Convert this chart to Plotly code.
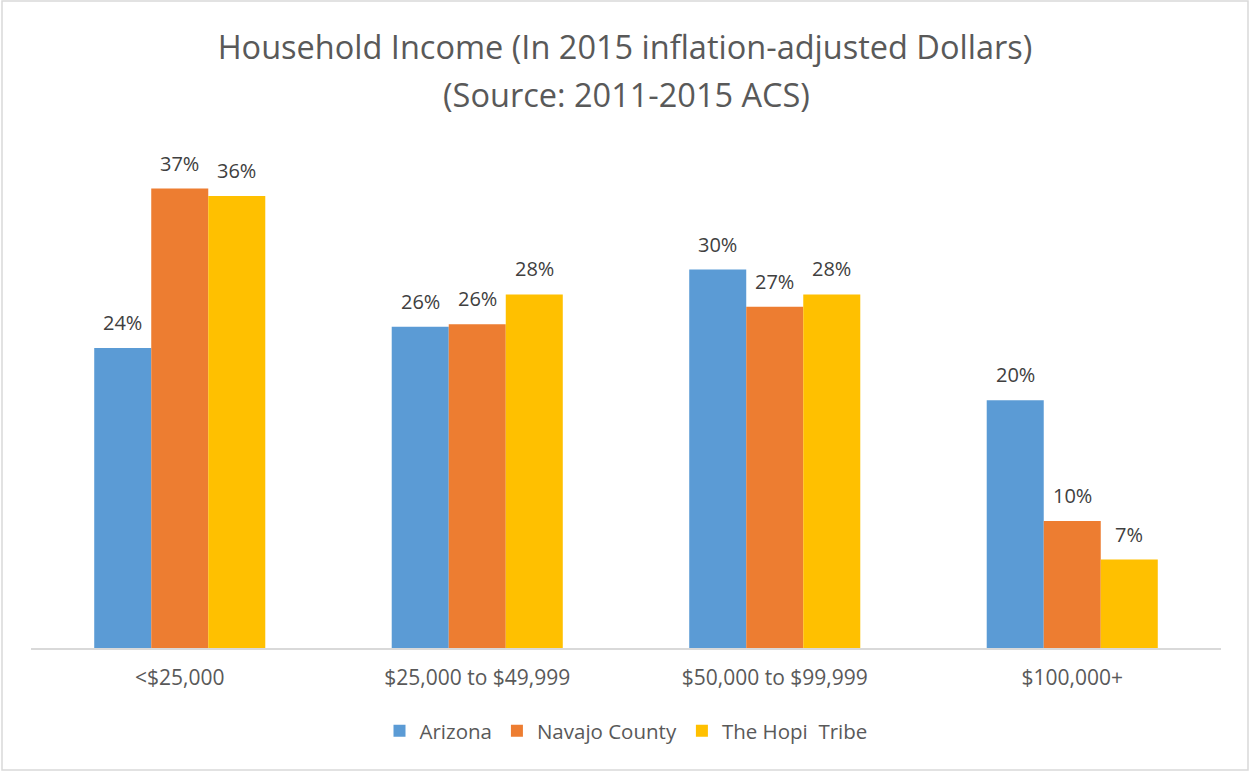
import plotly.graph_objects as go

categories = ["<$25,000", "$25,000 to $49,999", "$50,000 to $99,999", "$100,000+"]
arizona = [24.1, 25.8, 30.4, 19.9]
navajo = [36.9, 26.0, 27.4, 10.2]
hopi = [36.3, 28.4, 28.4, 7.1]

series = [
    ("Arizona", arizona, "#5B9BD5"),
    ("Navajo County", navajo, "#ED7D31"),
    ("The Hopi  Tribe", hopi, "#FFC000"),
]

FONT = "Open Sans, Noto Sans, sans-serif"
W, H = 1250, 771
L, R, T, B = 31, 29, 150, 123
plot_h = H - T - B

fig = go.Figure()
annotations = []
offsets = [-57, 0, 57]
for (name, vals, color), dx in zip(series, offsets):
    fig.add_trace(go.Bar(
        name=name, x=categories, y=vals,
        marker=dict(color=color, line=dict(width=0)),
        hoverinfo="skip",
    ))
    for cat, v in zip(categories, vals):
        annotations.append(dict(
            x=cat, y=v, xref="x", yref="y", text=f"{v:.0f}%",
            showarrow=False, xshift=dx, yshift=10, yanchor="bottom",
            font=dict(family=FONT, size=20, color="#404040"),
        ))

# second title line
annotations.append(dict(
    x=0.5, y=(H - B - 95) / plot_h, xref="paper", yref="paper",
    text="(Source: 2011-2015 ACS)", showarrow=False, yanchor="middle",
    font=dict(family=FONT, size=32.5, color="#595959"),
))

fig.update_layout(
    width=W, height=H,
    margin=dict(l=L, r=R, t=T, b=B),
    paper_bgcolor="white", plot_bgcolor="white",
    barmode="group", bargap=0.425, bargroupgap=0,
    title=dict(
        text="Household Income (In 2015 inflation-adjusted Dollars)",
        x=0.5, xanchor="center", y=1 - 48 / H, yanchor="middle", yref="container",
        font=dict(family=FONT, size=32.5, color="#595959"),
    ),
    xaxis=dict(
        showline=True, linecolor="#D9D9D9", linewidth=2,
        ticks="", ticklabelstandoff=10,
        tickfont=dict(family=FONT, size=21, color="#595959"),
    ),
    yaxis=dict(range=[0, 40], visible=False, showgrid=False),
    legend=dict(
        orientation="h", x=0.5, xanchor="center", y=(648 - 731) / plot_h, yanchor="middle",
        font=dict(family=FONT, size=20.5, color="#595959"),
        itemclick=False,
    ),
    annotations=annotations,
    shapes=[dict(
        type="rect", xref="paper", yref="paper",
        x0=-(L - 2) / (W - L - R), x1=1 + (R - 2) / (W - L - R),
        y0=-(B - 1) / plot_h, y1=1 + (T - 1) / plot_h,
        line=dict(color="#D9D9D9", width=1.5),
    )],
)

fig.write_html("out.html", config={"displayModeBar": False},
               post_script="document.body.style.margin='0';")
